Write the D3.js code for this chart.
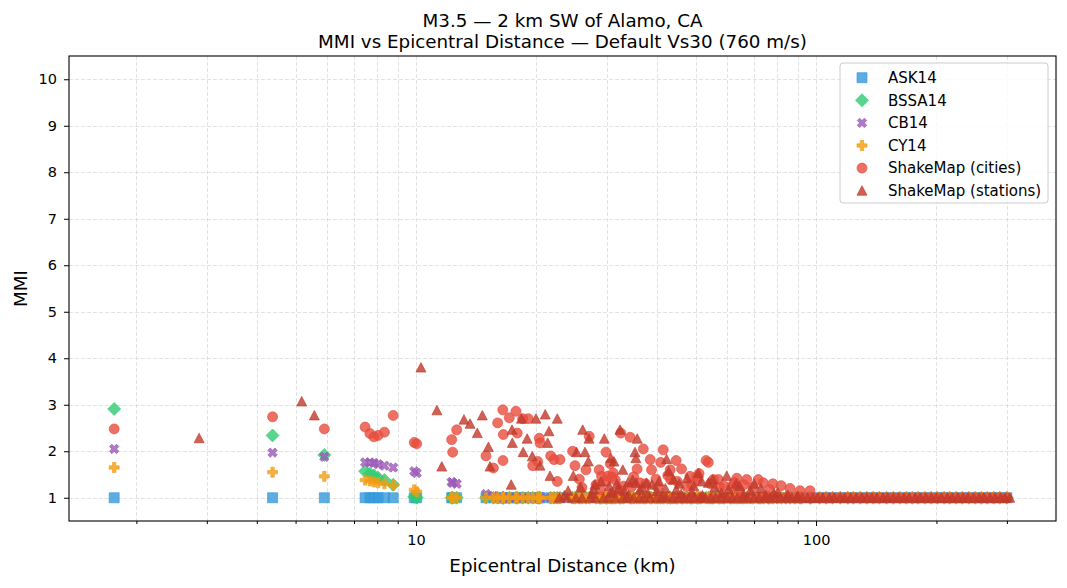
<!DOCTYPE html>
<html>
<head>
<meta charset="utf-8">
<script src="https://cdn.jsdelivr.net/npm/d3@7"></script>
<style>
  body { margin: 0; background: #fff; }
  text { font-family: "DejaVu Sans", sans-serif; fill: #000; }
</style>
</head>
<body>
<svg id="chart" width="1067" height="588"></svg>
<script>
// city sites: ShakeMap city MMI plus the four GMPE predictions at the same distance (km)
var cityDist = [1.76, 4.38, 5.90, 7.46, 7.67, 7.85, 8.04, 8.34, 8.77, 9.90,
  10.04, 12.28, 12.35, 12.64, 14.96, 15.61,
  16.0, 16.48, 16.5, 16.53, 17.11, 17.78, 17.91, 18.48, 19.08, 19.58,
  20.15, 20.33, 20.42, 21.71, 22.13, 22.55, 22.91, 24.63, 24.97, 25.6,
  26.6, 27.1, 28.7, 28.9, 29.1, 29.85, 29.9, 30.1, 30.6, 30.9,
  31.1, 32.3, 32.5, 34.3, 34.6, 35.7, 36.3, 37.0, 38.5, 38.8,
  39.8, 40.9, 41.5, 43.2, 43.3, 44.7, 46.1, 47.5, 48.4, 50.3,
  50.5, 53.1, 53.8, 55.4, 57.0, 57.5, 61.5, 63.4, 64.0, 67.1,
  71.7, 73.8, 81.8, 86.1, 91.2, 96.6, 26.0, 28.2, 31.5, 33.0,
  35.0, 37.5, 40.2, 42.6, 45.0, 48.9, 51.0, 54.5, 59.0, 62.5,
  66.0, 69.5, 76.5, 78.0, 44, 46.5, 49, 51.5, 55, 58.5,
  61, 65, 68.5, 72.5, 76, 80, 84, 88.5, 92, 97,
  102, 106, 110, 115, 120, 124, 129, 134, 139, 144,
  150, 156, 162, 168, 174, 180, 187, 194, 201, 209,
  216, 224, 232, 241, 250, 259, 268, 278, 288, 300];
var cityMMI = [2.48, 2.74, 2.48, 2.52, 2.38, 2.31, 2.34, 2.41, 2.77, 2.19,
  2.16, 2.25, 1.98, 2.46, 1.90, 1.64,
  2.61, 2.89, 1.80, 2.36, 2.72, 2.86, 2.39, 2.70, 2.70, 1.69,
  1.78, 2.28, 2.18, 1.90, 1.82, 1.35, 1.82, 2.00, 1.69, 1.40,
  1.60, 2.32, 1.60, 1.17, 1.46, 1.98, 1.35, 1.46, 1.73, 1.45,
  1.53, 1.16, 2.39, 2.30, 1.24, 1.62, 1.32, 2.05, 1.82, 1.60,
  1.40, 1.76, 2.03, 1.60, 1.39, 1.80, 1.62, 1.24, 1.46, 1.45,
  1.39, 1.80, 1.76, 1.39, 1.39, 1.23, 1.24, 1.42, 1.17, 1.39,
  1.39, 1.32, 1.26, 1.20, 1.15, 1.15, 1.22, 1.28, 1.38, 1.25,
  1.45, 1.30, 1.22, 1.48, 1.35, 1.28, 1.52, 1.30, 1.25, 1.33,
  1.28, 1.22, 1.18, 1.30, 1, 1, 1, 1, 1, 1,
  1, 1, 1, 1, 1, 1, 1, 1, 1, 1,
  1, 1, 1, 1, 1, 1, 1, 1, 1, 1,
  1, 1, 1, 1, 1, 1, 1, 1, 1, 1,
  1, 1, 1, 1, 1, 1, 1, 1, 1, 1];
var ask14 = [1, 1, 1, 1, 1, 1, 1, 1, 1, 1,
  1, 1, 1, 1, 1, 1,
  1, 1, 1, 1, 1, 1, 1, 1, 1, 1,
  1, 1, 1, 1, 1, 1, 1, 1, 1, 1,
  1, 1, 1, 1, 1, 1, 1, 1, 1, 1,
  1, 1, 1, 1, 1, 1, 1, 1, 1, 1,
  1, 1, 1, 1, 1, 1, 1, 1, 1, 1,
  1, 1, 1, 1, 1, 1, 1, 1, 1, 1,
  1, 1, 1, 1, 1, 1, 1, 1, 1, 1,
  1, 1, 1, 1, 1, 1, 1, 1, 1, 1,
  1, 1, 1, 1, 1, 1, 1, 1, 1, 1,
  1, 1, 1, 1, 1, 1, 1, 1, 1, 1,
  1, 1, 1, 1, 1, 1, 1, 1, 1, 1,
  1, 1, 1, 1, 1, 1, 1, 1, 1, 1,
  1, 1, 1, 1, 1, 1, 1, 1, 1, 1];
var bssa14 = [2.91, 2.34, 1.92, 1.57, 1.52, 1.48, 1.43, 1.38, 1.28, 1.02,
  1.0, 1, 1, 1, 1, 1,
  1, 1, 1, 1, 1, 1, 1, 1, 1, 1,
  1, 1, 1, 1, 1, 1, 1, 1, 1, 1,
  1, 1, 1, 1, 1, 1, 1, 1, 1, 1,
  1, 1, 1, 1, 1, 1, 1, 1, 1, 1,
  1, 1, 1, 1, 1, 1, 1, 1, 1, 1,
  1, 1, 1, 1, 1, 1, 1, 1, 1, 1,
  1, 1, 1, 1, 1, 1, 1, 1, 1, 1,
  1, 1, 1, 1, 1, 1, 1, 1, 1, 1,
  1, 1, 1, 1, 1, 1, 1, 1, 1, 1,
  1, 1, 1, 1, 1, 1, 1, 1, 1, 1,
  1, 1, 1, 1, 1, 1, 1, 1, 1, 1,
  1, 1, 1, 1, 1, 1, 1, 1, 1, 1,
  1, 1, 1, 1, 1, 1, 1, 1, 1, 1];
var cb14 = [2.05, 1.97, 1.88, 1.76, 1.76, 1.75, 1.72, 1.69, 1.65, 1.57,
  1.53, 1.34, 1.32, 1.30, 1.08, 1.04,
  1, 1, 1, 1, 1, 1, 1, 1, 1, 1,
  1, 1, 1, 1, 1, 1, 1, 1, 1, 1,
  1, 1, 1, 1, 1, 1, 1, 1, 1, 1,
  1, 1, 1, 1, 1, 1, 1, 1, 1, 1,
  1, 1, 1, 1, 1, 1, 1, 1, 1, 1,
  1, 1, 1, 1, 1, 1, 1, 1, 1, 1,
  1, 1, 1, 1, 1, 1, 1, 1, 1, 1,
  1, 1, 1, 1, 1, 1, 1, 1, 1, 1,
  1, 1, 1, 1, 1, 1, 1, 1, 1, 1,
  1, 1, 1, 1, 1, 1, 1, 1, 1, 1,
  1, 1, 1, 1, 1, 1, 1, 1, 1, 1,
  1, 1, 1, 1, 1, 1, 1, 1, 1, 1,
  1, 1, 1, 1, 1, 1, 1, 1, 1, 1];
var cy14 = [1.65, 1.55, 1.46, 1.38, 1.36, 1.34, 1.32, 1.30, 1.27, 1.17,
  1.13, 1, 1, 1, 1, 1,
  1, 1, 1, 1, 1, 1, 1, 1, 1, 1,
  1, 1, 1, 1, 1, 1, 1, 1, 1, 1,
  1, 1, 1, 1, 1, 1, 1, 1, 1, 1,
  1, 1, 1, 1, 1, 1, 1, 1, 1, 1,
  1, 1, 1, 1, 1, 1, 1, 1, 1, 1,
  1, 1, 1, 1, 1, 1, 1, 1, 1, 1,
  1, 1, 1, 1, 1, 1, 1, 1, 1, 1,
  1, 1, 1, 1, 1, 1, 1, 1, 1, 1,
  1, 1, 1, 1, 1, 1, 1, 1, 1, 1,
  1, 1, 1, 1, 1, 1, 1, 1, 1, 1,
  1, 1, 1, 1, 1, 1, 1, 1, 1, 1,
  1, 1, 1, 1, 1, 1, 1, 1, 1, 1,
  1, 1, 1, 1, 1, 1, 1, 1, 1, 1];

// seismic stations
var stationDist = [2.87, 5.18, 5.57, 10.29, 11.28, 11.6, 13.18, 13.65, 14.23, 14.65, 15.17, 15.31,
  17.3, 17.38, 17.41, 18.35, 18.53, 18.96, 19.53, 19.95, 20.42, 21.04, 21.34, 21.5, 21.63, 22.55,
  24.72, 25.2, 26.1, 26.45, 26.96, 27.07, 28.0, 29.56, 30.6, 30.7, 31.26, 32.0, 32.36, 32.88, 33.9,
  35.27, 35.45, 35.5, 35.73, 36.3, 37.7, 40.0, 42.3, 42.8, 44.0, 44.7, 50.8, 53.8, 55.2, 59.8, 63.1, 70.0,
  24.0, 25.8, 27.8, 29.0, 30.4, 31.8, 33.2, 34.8, 36.8, 38.9, 40.5, 42.0, 45.5, 47.6, 49.5, 51.8,
  55.8, 60.5, 64.5, 68.5, 72.8, 80.2,
  23.5, 27.5, 31.0, 34.0, 38.0, 41.5, 46.0, 49.0, 52.0, 58.0, 66.0, 75.0, 78.5, 85.0, 90.0,
  22.8, 23.9, 25.1, 26.0, 27.3, 28.1, 29.4, 30.2, 31.5, 32.9, 33.6, 35.0, 36.2, 37.1, 38.4, 39.9,
  41.0, 42.3, 43.9, 45.2, 46.8, 48.0, 49.7, 51.3, 52.9, 54.6, 56.1, 58.0, 59.9, 61.8, 63.5, 65.7,
  67.4, 69.9, 72.0, 74.3, 76.8, 79.1, 81.6, 84.2, 86.9, 89.5, 92.4, 95.3, 98.2, 101, 104, 108, 111,
  115, 118, 122, 126, 130, 134, 138, 142, 147, 151, 156, 161, 166, 171, 177, 182, 188, 194, 200,
  206, 213, 219, 226, 233, 240, 248, 256, 263, 272, 280, 289, 297, 305];
var stationMMI = [2.28, 3.07, 2.77, 3.80, 2.88, 1.67, 2.68, 2.59, 2.39, 2.77, 2.09, 1.67,
  1.28, 2.46, 2.18, 2.70, 1.98, 2.27, 1.89, 2.70, 1.69, 2.79, 2.18, 2.43, 1.47, 2.70,
  1.47, 1.98, 2.46, 1.98, 1.78, 2.27, 1.28, 2.27, 1.10, 1.85, 1.78, 1.19, 2.46, 1.60, 1.33,
  1.98, 1.85, 1.32, 2.27, 1.17, 1.32, 1.14, 1.83, 1.57, 1.39, 1.17, 1.53, 1.32, 1.39, 1.47, 1.30, 1.30,
  1.15, 1.22, 1.18, 1.35, 1.25, 1.30, 1.15, 1.38, 1.22, 1.28, 1.35, 1.20, 1.30, 1.42, 1.25, 1.35,
  1.22, 1.18, 1.25, 1.15, 1.20, 1.12,
  1.05, 1.08, 1.12, 1.06, 1.09, 1.04, 1.08, 1.12, 1.05, 1.10, 1.07, 1.05, 1.09, 1.06, 1.04,
  1, 1, 1, 1, 1, 1, 1, 1, 1, 1, 1, 1, 1, 1, 1, 1,
  1, 1, 1, 1, 1, 1, 1, 1, 1, 1, 1, 1, 1, 1, 1, 1,
  1, 1, 1, 1, 1, 1, 1, 1, 1, 1, 1, 1, 1, 1, 1, 1, 1,
  1, 1, 1, 1, 1, 1, 1, 1, 1, 1, 1, 1, 1, 1, 1, 1, 1, 1, 1,
  1, 1, 1, 1, 1, 1, 1, 1, 1, 1, 1, 1, 1, 1];

var xMinorTicks = [2, 3, 4, 5, 6, 7, 8, 9, 20, 30, 40, 50, 60, 70, 80, 90, 200, 300];
var xMajorTicks = [10, 100];
var yTicks = [1, 2, 3, 4, 5, 6, 7, 8, 9, 10];

var titleLines = ["M3.5 \u2014 2 km SW of Alamo, CA", "MMI vs Epicentral Distance \u2014 Default Vs30 (760 m/s)"];

// marker shapes, centred on 0,0
function plusPath(s) {
  var a = s / 3;
  return "M" + (-a) + "," + (-s) + "H" + a + "V" + (-a) + "H" + s + "V" + a + "H" + a + "V" + s +
    "H" + (-a) + "V" + a + "H" + (-s) + "V" + (-a) + "H" + (-a) + "Z";
}
var shapes = {
  square: { path: "M-5,-5H5V5H-5Z" },
  diamond: { path: "M0,-6.5L6.5,0L0,6.5L-6.5,0Z" },
  cross: { path: plusPath(5), rot: 45 },
  plus: { path: plusPath(5) },
  circle: { path: "M5,0A5,5 0 1,1 -5,0A5,5 0 1,1 5,0Z" },
  triangle: { path: "M0,-5L5,4.5L-5,4.5Z" }
};

var series = [
  { name: "ASK14", x: cityDist, y: ask14, shape: "square", color: "#3498db" },
  { name: "BSSA14", x: cityDist, y: bssa14, shape: "diamond", color: "#2ecc71" },
  { name: "CB14", x: cityDist, y: cb14, shape: "cross", color: "#9b59b6" },
  { name: "CY14", x: cityDist, y: cy14, shape: "plus", color: "#f39c12" },
  { name: "ShakeMap (cities)", x: cityDist, y: cityMMI, shape: "circle", color: "#e74c3c" },
  { name: "ShakeMap (stations)", x: stationDist, y: stationMMI, shape: "triangle", color: "#c0392b" }
];

var plotLeft = 69, plotRight = 1056, plotTop = 56, plotBottom = 521;
var svg = d3.select("#chart");

var x = d3.scaleLog().domain([1.357, 398]).range([plotLeft, plotRight]);
var y = d3.scaleLinear().domain([0.5, 10.5]).range([plotBottom, plotTop]);

// grid
var grid = svg.append("g").attr("stroke", "#b0b0b0").attr("stroke-opacity", 0.6)
  .attr("stroke-width", 0.6).attr("stroke-dasharray", "4,2");
grid.selectAll("line.gx").data(xMinorTicks.concat(xMajorTicks)).enter().append("line")
  .attr("x1", function(d) { return Math.round(x(d)) + 0.5; })
  .attr("x2", function(d) { return Math.round(x(d)) + 0.5; })
  .attr("y1", plotTop).attr("y2", plotBottom);
grid.selectAll("line.gy").data(yTicks).enter().append("line")
  .attr("y1", function(d) { return Math.round(y(d)) + 0.5; })
  .attr("y2", function(d) { return Math.round(y(d)) + 0.5; })
  .attr("x1", plotLeft).attr("x2", plotRight);

// points
var plot = svg.append("g");
series.forEach(function(s) {
  var sh = shapes[s.shape];
  plot.append("g").selectAll("path").data(d3.range(s.x.length)).enter().append("path")
    .attr("d", sh.path)
    .attr("transform", function(i) {
      return "translate(" + x(s.x[i]) + "," + y(s.y[i]) + ")" + (sh.rot ? " rotate(" + sh.rot + ")" : "");
    })
    .attr("fill", s.color).attr("fill-opacity", 0.8)
    .attr("stroke", s.color).attr("stroke-opacity", 0.8).attr("stroke-width", 0.8);
});

// axes
var xAxis = d3.axisBottom(x).tickValues(xMajorTicks).tickFormat(d3.format("d")).tickSize(5).tickPadding(9);
var xMinor = d3.axisBottom(x).tickValues(xMinorTicks).tickFormat("").tickSize(3);
var yAxis = d3.axisLeft(y).tickValues(yTicks).tickSize(5).tickPadding(7);

function styleAxis(g) {
  g.select(".domain").remove();
  g.selectAll("line").attr("stroke", "#000").attr("stroke-width", 1);
  g.selectAll("text").style("font-family", "DejaVu Sans").style("font-size", "14.5px").attr("fill", "#000");
}
svg.append("g").attr("transform", "translate(0," + plotBottom + ")").call(xMinor).call(styleAxis);
svg.append("g").attr("transform", "translate(0," + plotBottom + ")").call(xAxis).call(styleAxis);
svg.append("g").attr("transform", "translate(" + plotLeft + ",0)").call(yAxis).call(styleAxis);

// frame
svg.append("rect").attr("x", plotLeft).attr("y", plotTop)
  .attr("width", plotRight - plotLeft).attr("height", plotBottom - plotTop)
  .attr("fill", "none").attr("stroke", "#000").attr("stroke-width", 1.1);

// labels
svg.append("text").attr("x", (plotLeft + plotRight) / 2).attr("y", 572).attr("text-anchor", "middle")
  .style("font-size", "18.3px").text("Epicentral Distance (km)");
svg.append("text").attr("transform", "translate(27," + (plotTop + plotBottom) / 2 + ") rotate(-90)")
  .attr("text-anchor", "middle").style("font-size", "18.3px").text("MMI");
svg.selectAll("text.title").data(titleLines).enter().append("text").attr("class", "title")
  .attr("x", (plotLeft + plotRight) / 2).attr("y", function(d, i) { return 27 + i * 21; })
  .attr("text-anchor", "middle").style("font-size", "18.3px").text(function(d) { return d; });

// legend
var legend = svg.append("g");
legend.append("rect").attr("x", 840).attr("y", 63).attr("width", 208).attr("height", 140)
  .attr("rx", 3).attr("fill", "#fff").attr("fill-opacity", 0.8).attr("stroke", "#cccccc");
series.forEach(function(s, i) {
  var ly = 77.7 + i * 22.6;
  var sh = shapes[s.shape];
  legend.append("path").attr("d", sh.path)
    .attr("transform", "translate(862," + ly + ")" + (sh.rot ? " rotate(" + sh.rot + ")" : ""))
    .attr("fill", s.color).attr("fill-opacity", 0.8)
    .attr("stroke", s.color).attr("stroke-opacity", 0.8).attr("stroke-width", 0.8);
  legend.append("text").attr("x", 888).attr("y", ly).attr("dy", "0.35em")
    .style("font-size", "15px").text(s.name);
});
</script>
</body>
</html>
